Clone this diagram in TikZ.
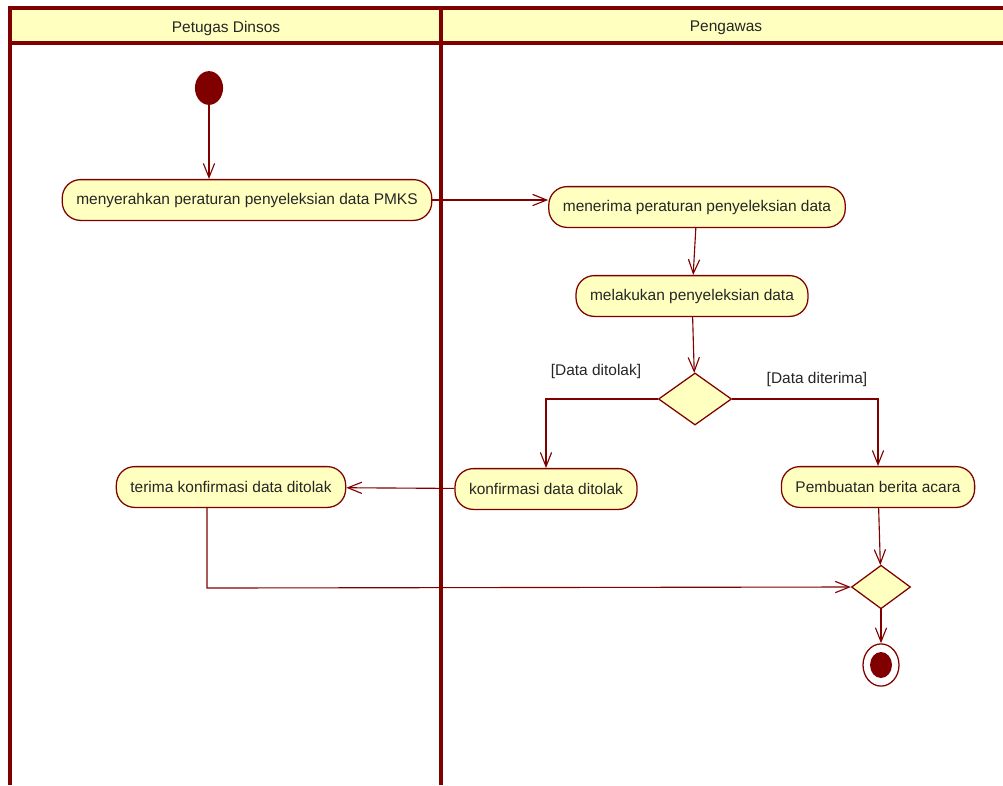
\documentclass[tikz,border=0pt]{standalone}
\usepackage{fontspec}
\setmainfont{Liberation Sans}
\usetikzlibrary{arrows.meta,shapes.geometric}
\definecolor{umlred}{RGB}{128,0,0}
\definecolor{umlyellow}{RGB}{255,255,192}
\begin{document}
\begin{tikzpicture}[x=0.025cm,y=-0.025cm,
    teks/.style={font=\fontsize{11}{13}\selectfont,text=black!85},
    act/.style={teks,draw=umlred,fill=umlyellow,line width=0.9pt,rounded corners=13pt,minimum height=29pt,inner xsep=10pt},
    keputusan/.style={draw=umlred,fill=umlyellow,line width=0.9pt,shape=diamond,inner sep=0pt,minimum width=52pt,minimum height=37pt},
    mulai/.style={fill=umlred,shape=ellipse,inner sep=0pt,minimum width=20pt,minimum height=24pt},
    akhir/.style={draw=umlred,line width=0.9pt,shape=ellipse,inner sep=0pt,minimum width=25.6pt,minimum height=30pt},
    alir/.style={draw=umlred,line width=0.8pt,-{Straight Barb[length=10pt,width=8pt]}},
    garis/.style={draw=umlred,line width=2.6pt}]
    \useasboundingbox (0,0) rectangle (1003,785);

    % swimlane
    \fill[umlyellow] (10,8) rectangle (1003,43);
    \draw[garis] (1003,8) -- (10,8) -- (10,785);
    \draw[garis] (10,43) -- (1003,43);
    \draw[garis] (441,8) -- (441,785);
    \node[teks] (LA) at (226,28) {Petugas Dinsos};
    \node[teks] (LB) at (726,28) {Pengawas};

    \node[mulai] (AA) at (209,88) {};
    \node[act] (AB) at (247,200) {menyerahkan peraturan penyeleksian data PMKS};
    \node[act] (AC) at (697,207) {menerima peraturan penyeleksian data};
    \node[act] (AD) at (692,296) {melakukan penyeleksian data};
    \node[keputusan] (AE) at (695,399) {};
    \node[act] (AF) at (546,489) {konfirmasi data ditolak};
    \node[act] (AG) at (878,487) {Pembuatan berita acara};
    \node[act] (AH) at (231,487) {terima konfirmasi data ditolak};
    \node[keputusan,minimum width=42pt,minimum height=31pt] (AI) at (881,587) {};
    \node[akhir] (AJ) at (881,665) {};
    \node[mulai,minimum width=15.6pt,minimum height=18.5pt] (AK) at (881,665) {};
    \node[teks] (GA) at (596,371) {[Data ditolak]};
    \node[teks] (GB) at (817,379) {[Data diterima]};
    \coordinate (BA) at (207,588);

    \draw[alir] (AA.south) -- (AA.south |- AB.north);
    \draw[alir] (AB.east) -- (AB.east -| AC.west);
    \draw[alir] (AC) -- (AD);
    \draw[alir] (AD) -- (AE);
    \draw[alir] (AE.west) -| (AF.north);
    \draw[alir] (AE.east) -| (AG.north);
    \draw[alir] (AF) -- (AH);
    \draw[alir] (AH.south -| BA) -- (BA) -- (AI.west);
    \draw[alir] (AG) -- (AI);
    \draw[alir] (AI) -- (AJ);
\end{tikzpicture}
\end{document}
